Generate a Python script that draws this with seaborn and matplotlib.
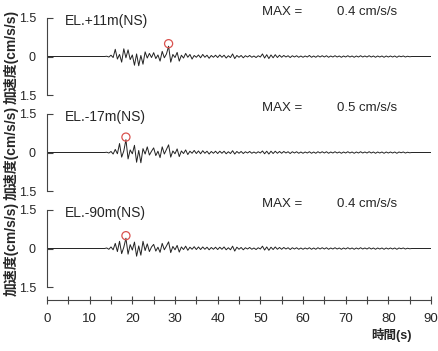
import numpy as np
import matplotlib
matplotlib.use('Agg')
import matplotlib.pyplot as plt
import seaborn as sns

sns.set_style('white')
plt.rcParams['font.family'] = ['Liberation Sans', 'Noto Sans CJK JP', 'DejaVu Sans']

# time grid of the recorded part (s), flat before and after
t_rec = np.arange(13.0, 86.01, 0.5)

# EL.+11m(NS)
acc_p11 = [0.0, 0.0, 0.01, -0.02,
           0.05, -0.04, 0.28, -0.10, 0.08, -0.22, 0.30, -0.05, 0.26, -0.12,
           0.06, -0.34, 0.10, -0.36, 0.04, -0.30, 0.18, -0.06, 0.12, -0.04,
           0.15, -0.08, 0.06, -0.18, 0.20, -0.05, 0.10, 0.40, -0.22, 0.08,
           -0.04, 0.16, -0.18, 0.05, -0.06, 0.12, -0.03, 0.08, -0.10, 0.04,
           -0.03, 0.06, -0.05, 0.08, -0.03, 0.05, -0.07, 0.04, -0.03, 0.05,
           -0.04, 0.06, -0.03, 0.05, -0.06, 0.03, -0.04, 0.10, -0.08, 0.04,
           -0.03, 0.04, -0.05, 0.03, -0.02, 0.04, -0.03, 0.02, -0.04, 0.03,
           -0.02, 0.10, -0.06, 0.07, -0.08, 0.06, -0.05, 0.07, -0.04, 0.05,
           -0.03, 0.04, -0.02, 0.03, -0.04, 0.03, -0.02, 0.03, -0.03, 0.02,
           -0.03, 0.02, -0.02, 0.04, -0.03, 0.02, -0.03, 0.03, -0.02, 0.03,
           -0.02, 0.03, -0.03, 0.02, -0.02, 0.03, -0.02, 0.02, -0.03, 0.02,
           -0.02, 0.03, -0.02, 0.02, -0.03, 0.02, -0.02, 0.03, -0.02, 0.02,
           -0.02, 0.03, -0.02, 0.02, -0.03, 0.02, -0.02, 0.02, -0.03, 0.02,
           -0.02, 0.02, -0.02, 0.02, -0.03, 0.02, -0.01, 0.02, -0.02, 0.01,
           -0.01, 0.0, 0.0]

# EL.-17m(NS)
acc_m17 = [0.0, 0.0, 0.01, -0.02,
           0.04, -0.06, 0.12, -0.05, 0.35, -0.18, 0.06, 0.50, -0.25, 0.10,
           -0.05, 0.28, -0.38, 0.08, -0.40, 0.15, -0.06, 0.22, -0.10, 0.05,
           0.18, -0.12, 0.05, -0.20, 0.22, -0.06, 0.12, 0.30, -0.18, 0.06,
           -0.05, 0.14, -0.16, 0.06, -0.04, 0.10, -0.08, 0.05, -0.03, 0.08,
           -0.04, 0.06, -0.05, 0.07, -0.03, 0.05, -0.06, 0.04, -0.03, 0.05,
           -0.04, 0.05, -0.03, 0.05, -0.05, 0.03, -0.04, 0.07, -0.06, 0.04,
           -0.03, 0.04, -0.04, 0.03, -0.02, 0.04, -0.03, 0.02, -0.03, 0.03,
           -0.02, 0.06, -0.05, 0.05, -0.06, 0.05, -0.04, 0.05, -0.03, 0.04,
           -0.03, 0.04, -0.02, 0.03, -0.04, 0.03, -0.02, 0.03, -0.03, 0.02,
           -0.03, 0.02, -0.02, 0.03, -0.03, 0.02, -0.03, 0.03, -0.02, 0.03,
           -0.02, 0.03, -0.03, 0.02, -0.02, 0.03, -0.02, 0.02, -0.03, 0.02,
           -0.02, 0.03, -0.02, 0.02, -0.03, 0.02, -0.02, 0.03, -0.02, 0.02,
           -0.02, 0.03, -0.02, 0.02, -0.03, 0.02, -0.02, 0.02, -0.03, 0.02,
           -0.02, 0.02, -0.02, 0.02, -0.03, 0.02, -0.01, 0.02, -0.02, 0.01,
           -0.01, 0.0, 0.0]

# EL.-90m(NS)
acc_m90 = [0.0, 0.0, 0.02, -0.03,
           0.06, -0.05, 0.20, -0.12, 0.28, -0.20, 0.05, 0.40, -0.22, 0.15,
           -0.06, 0.25, -0.30, 0.10, -0.26, 0.28, -0.08, 0.18, -0.12, 0.06,
           0.16, -0.10, 0.05, -0.15, 0.20, -0.05, 0.10, 0.26, -0.16, 0.08,
           -0.05, 0.12, -0.14, 0.06, -0.04, 0.09, -0.07, 0.05, -0.03, 0.07,
           -0.04, 0.06, -0.04, 0.06, -0.03, 0.05, -0.05, 0.04, -0.03, 0.05,
           -0.04, 0.05, -0.03, 0.06, -0.05, 0.03, -0.05, 0.09, -0.10, 0.05,
           -0.03, 0.04, -0.05, 0.03, -0.02, 0.04, -0.03, 0.02, -0.04, 0.03,
           -0.02, 0.09, -0.06, 0.06, -0.07, 0.05, -0.04, 0.06, -0.03, 0.04,
           -0.03, 0.04, -0.02, 0.03, -0.04, 0.03, -0.02, 0.03, -0.03, 0.02,
           -0.03, 0.02, -0.02, 0.03, -0.03, 0.02, -0.03, 0.03, -0.02, 0.03,
           -0.02, 0.03, -0.03, 0.02, -0.02, 0.03, -0.02, 0.02, -0.03, 0.02,
           -0.02, 0.03, -0.02, 0.02, -0.03, 0.02, -0.02, 0.03, -0.02, 0.02,
           -0.02, 0.03, -0.02, 0.02, -0.03, 0.02, -0.02, 0.02, -0.03, 0.02,
           -0.02, 0.02, -0.02, 0.02, -0.03, 0.02, -0.01, 0.02, -0.02, 0.01,
           -0.01, 0.0, 0.0]

names = ['EL.+11m(NS)', 'EL.-17m(NS)', 'EL.-90m(NS)']
traces = [acc_p11, acc_m17, acc_m90]
max_text = ['0.4 cm/s/s', '0.5 cm/s/s', '0.4 cm/s/s']
peak_t = [28.5, 18.5, 18.5]
peak_v = [0.40, 0.50, 0.40]

fig = plt.figure(figsize=(4.39, 3.51), dpi=100)
left, width = 47 / 439, 384 / 439
tops = [18, 114, 210]
h_px = 77

for i in range(3):
    y0 = 1 - (tops[i] + h_px) / 351
    ax = fig.add_axes([left, y0, width, h_px / 351])
    tt = np.concatenate([[0.0], t_rec, [90.0]])
    aa = np.concatenate([[0.0], traces[i], [0.0]])
    sns.lineplot(x=tt, y=aa, ax=ax, color='#222222', linewidth=0.7, sort=False)
    sns.scatterplot(x=[peak_t[i]], y=[peak_v[i] + 0.1], ax=ax, s=34,
                    facecolor='none', edgecolor='#d9534f', linewidth=0.9, zorder=5)
    ax.set_xlim(0, 90)
    ax.set_ylim(-1.5, 1.5)
    for s in ['top', 'right', 'bottom']:
        ax.spines[s].set_visible(False)
    ax.spines['left'].set_color('#444444')
    ax.spines['left'].set_linewidth(0.8)
    ax.set_yticks([-1.5, 0, 1.5])
    ax.set_yticklabels(['1.5', '0', '1.5'])
    ax.tick_params(axis='y', direction='in', length=4, width=0.8, labelsize=9,
                   pad=8, color='#444444', left=True)
    ax.set_xticks([])
    ax.set_ylabel('加速度(cm/s/s)', fontsize=10, fontweight='bold', labelpad=0)
    ax.text(4.2, 1.38, names[i], fontsize=10, va='center', ha='left')
    ax.text(50.3, 1.75, 'MAX =', fontsize=9.5, va='center', ha='left', clip_on=False)
    ax.text(68.0, 1.75, max_text[i], fontsize=9.5, va='center', ha='left', clip_on=False)

# separate time axis
axx = fig.add_axes([left, 1 - 300 / 351, width, 0.001])
axx.set_xlim(0, 90)
axx.set_yticks([])
for s in ['top', 'right', 'left']:
    axx.spines[s].set_visible(False)
axx.spines['bottom'].set_color('#444444')
axx.spines['bottom'].set_linewidth(0.8)
axx.set_xticks(np.arange(0, 91, 10))
axx.set_xticks(np.arange(5, 90, 10), minor=True)
axx.tick_params(axis='x', which='both', direction='inout', length=6, width=0.8,
                labelsize=9.5, pad=6, color='#444444', bottom=True)
axx.patch.set_alpha(0)
fig.text(392 / 439, 1 - 335 / 351, '時間(s)', fontsize=9, fontweight='bold',
         ha='center', va='center')

fig.savefig('out.png', dpi=100, facecolor='white')
